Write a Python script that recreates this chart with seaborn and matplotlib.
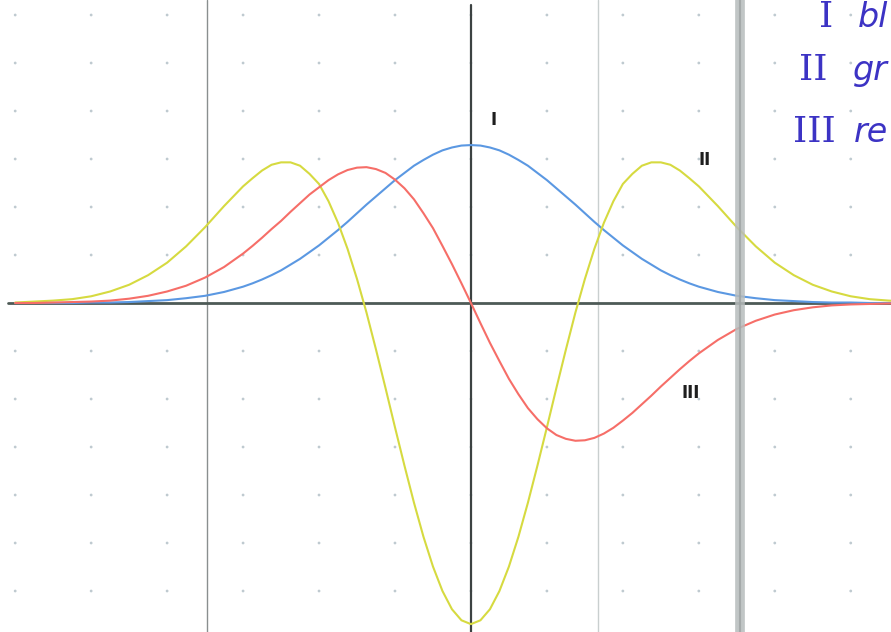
import numpy as np
import pandas as pd
import matplotlib
matplotlib.use("Agg")
import matplotlib.pyplot as plt
import seaborn as sns

# values (x and y in grid units)
x_vals = [-6.0, -5.75, -5.5, -5.25, -5.0, -4.75, -4.5, -4.25, -4.0, -3.75, -3.5, -3.25,
          -3.0, -2.875, -2.75, -2.625, -2.5, -2.375, -2.25, -2.125,
          -2.0, -1.875, -1.75, -1.625, -1.5, -1.375, -1.25, -1.125,
          -1.0, -0.875, -0.75, -0.625, -0.5, -0.375, -0.25, -0.125, 0.0,
          0.125, 0.25, 0.375, 0.5, 0.625, 0.75, 0.875, 1.0, 1.125, 1.25, 1.375, 1.5, 1.625,
          1.75, 1.875, 2.0, 2.125, 2.25, 2.375, 2.5, 2.625, 2.75, 2.875,
          3.0, 3.25, 3.5, 3.75, 4.0, 4.25, 4.5, 4.75,
          5.0, 5.25, 5.5, 5.75]

# I  - blue
blue_vals = [0.00, 0.00, 0.00, 0.00, 0.01, 0.01, 0.02, 0.04, 0.06, 0.10, 0.15, 0.23,
             0.34, 0.41, 0.49, 0.58, 0.68, 0.80, 0.92, 1.06,
             1.20, 1.36, 1.52, 1.69, 1.87, 2.05, 2.22, 2.39,
             2.56, 2.71, 2.86, 2.98, 3.09, 3.18, 3.24, 3.28, 3.29,
             3.28, 3.24, 3.18, 3.09, 2.98, 2.86, 2.71, 2.56, 2.39, 2.22, 2.05, 1.87, 1.69,
             1.52, 1.36, 1.20, 1.06, 0.92, 0.80, 0.68, 0.58, 0.49, 0.41,
             0.34, 0.23, 0.15, 0.10, 0.06, 0.04, 0.02, 0.01,
             0.01, 0.00, 0.00, 0.00]

# II - yellow
yellow_vals = [0.01, 0.03, 0.05, 0.08, 0.14, 0.24, 0.38, 0.58, 0.84, 1.18, 1.58, 2.02,
               2.43, 2.60, 2.76, 2.88, 2.93, 2.93, 2.86, 2.69,
               2.48, 2.12, 1.67, 1.13, 0.50, -0.20, -0.97, -1.77,
               -2.59, -3.39, -4.16, -4.87, -5.49, -6.00, -6.38, -6.61, -6.69,
               -6.61, -6.38, -6.00, -5.49, -4.87, -4.16, -3.39, -2.59, -1.77, -0.97, -0.20, 0.50, 1.13,
               1.67, 2.12, 2.48, 2.69, 2.86, 2.93, 2.93, 2.88, 2.76, 2.60,
               2.43, 2.02, 1.58, 1.18, 0.84, 0.58, 0.38, 0.24,
               0.14, 0.08, 0.05, 0.03]

# III - red
red_vals = [0.00, 0.00, 0.01, 0.02, 0.03, 0.05, 0.09, 0.15, 0.24, 0.36, 0.53, 0.75,
            1.03, 1.19, 1.36, 1.54, 1.71, 1.90, 2.08, 2.26,
            2.41, 2.56, 2.68, 2.77, 2.82, 2.83, 2.79, 2.71,
            2.57, 2.39, 2.16, 1.87, 1.56, 1.19, 0.81, 0.41, 0.00,
            -0.42, -0.83, -1.21, -1.58, -1.90, -2.19, -2.42, -2.61, -2.75, -2.83, -2.87, -2.86, -2.81,
            -2.72, -2.60, -2.45, -2.29, -2.11, -1.93, -1.74, -1.56, -1.38, -1.21,
            -1.05, -0.77, -0.54, -0.37, -0.24, -0.15, -0.09, -0.05,
            -0.03, -0.02, -0.01, 0.00]

grid_x = [-6, -5, -4, -3, -2, -1, 0, 1, 2, 3, 4, 5]
grid_y = [-6, -5, -4, -3, -2, -1, 1, 2, 3, 4, 5, 6]
marker_lines = [-3.47, 1.67]
gutter_x = 3.54

curve_labels = ["I", "II", "III"]
label_x = [0.30, 3.08, 2.89]
label_y = [3.81, 2.98, -1.88]

# handwritten note, only the start of each word is on the page
note_nums = ["I", "II", "III"]
note_words = ["bl", "gr", "re"]

sns.set_style("white")

fig = plt.figure(figsize=(8.91, 6.32), dpi=100)
ax = fig.add_axes([0, 0, 1, 1])
ax.set_xlim(-6.2, 5.53)
ax.set_ylim(-6.854, 6.3125)
ax.axis("off")

gx, gy = np.meshgrid(grid_x, grid_y)
sns.scatterplot(x=gx.ravel(), y=gy.ravel(), ax=ax, s=4, color="#bfcad0",
                edgecolor="none", zorder=1)

ax.axvline(marker_lines[0], color="#8a8f8f", lw=1.0, zorder=2)
ax.axvline(marker_lines[1], color="#c9cfcf", lw=1.0, zorder=2)
ax.axvline(0, ymax=1 - 5 / 632, color="#3c4242", lw=1.6, zorder=2)
ax.axhline(0, xmin=8 / 891, color="#4d5a56", lw=2.0, zorder=2)

curves = pd.DataFrame({"x": x_vals, "I": blue_vals, "II": yellow_vals, "III": red_vals})
colors = {"I": "#5b98e2", "II": "#d6da40", "III": "#f66e68"}
for name in ["I", "II", "III"]:
    sns.lineplot(data=curves, x="x", y=name, ax=ax, color=colors[name], lw=1.5,
                 estimator=None, sort=False, zorder=3)

# book gutter shadow
ax.axvline(gutter_x, color="#b7bcbc", lw=7, alpha=0.85, zorder=4)
ax.axvline(gutter_x, color="#9ea4a4", lw=1.5, alpha=0.8, zorder=4)

for t, lx, ly in zip(curve_labels, label_x, label_y):
    ax.text(lx, ly, t, ha="center", va="center", fontsize=12, fontweight="bold",
            color="#1e1e1e")

ink = "#3c33c4"
num_x = [826, 813, 814]
baselines = [27, 80, 142]
for num, word, nx, base in zip(note_nums, note_words, num_x, baselines):
    fig.text(nx / 891, 1 - base / 632, num, ha="center", va="baseline", fontsize=26,
             color=ink, family="DejaVu Serif")
    fig.text(888 / 891, 1 - base / 632, word, ha="right", va="baseline", fontsize=24,
             color=ink, family="DejaVu Sans", style="italic")

fig.savefig("out.png", dpi=100)
